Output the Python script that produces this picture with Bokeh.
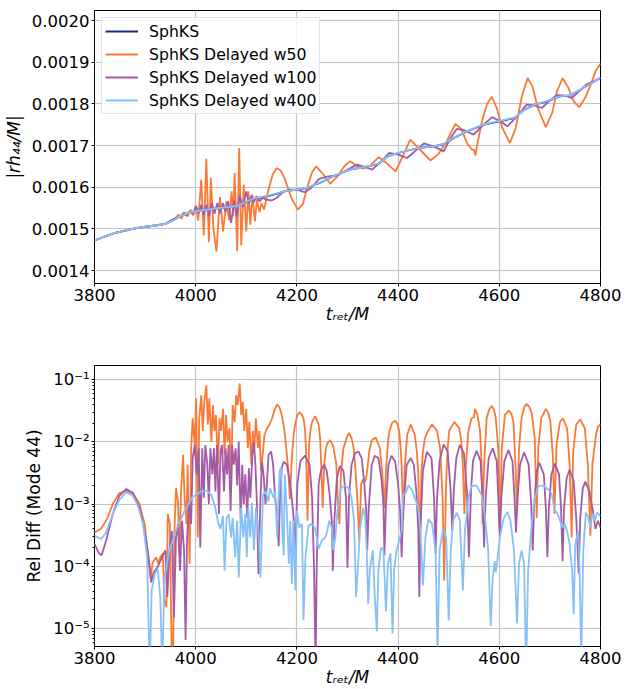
from bokeh.plotting import figure
from bokeh.layouts import column
from bokeh.models import FixedTicker, PrintfTickFormatter, CustomJSTickFormatter
from bokeh.embed import file_html
from bokeh.resources import INLINE

# ---------------- data ----------------
series_names = ["SphKS", "SphKS Delayed w50", "SphKS Delayed w100", "SphKS Delayed w400"]
x_ticks = [3800, 4000, 4200, 4400, 4600, 4800]
amp_ticks = [0.0014, 0.0015, 0.0016, 0.0017, 0.0018, 0.0019, 0.0020]
diff_ticks = [1e-5, 1e-4, 1e-3, 1e-2, 1e-1]

sphks_amp = [(3800,0.001472),(3820,0.001482),(3840,0.001490),(3860,0.001496),(3880,0.001501),(3900,0.001505),
    (3920,0.001508),(3940,0.001512),(3955,0.001520),(3970,0.001531),(3990,0.001540),(4010,0.001544),(4040,0.001549),
    (4070,0.001553),(4085,0.001556),(4100,0.001564),(4115,0.001572),(4140,0.001578),(4160,0.001584),(4175,0.001590),
    (4200,0.001594),(4220,0.001598),(4245,0.001610),(4275,0.001628),(4305,0.001642),(4340,0.001650),(4360,0.001655),
    (4380,0.001674),(4400,0.001682),(4440,0.001694),(4470,0.001698),(4490,0.001703),(4510,0.001718),(4540,0.001736),
    (4570,0.001750),(4600,0.001758),(4630,0.001766),(4650,0.001786),(4670,0.001798),(4695,0.001806),(4720,0.001818),
    (4740,0.001820),(4760,0.001834),(4780,0.001848),(4800,0.001862)]

w50_amp = [(3800,0.001472),(3840,0.001490),(3880,0.001501),(3920,0.001508),(3940,0.001512),(3960,0.001526),
    (3966,0.001534),(3972,0.001524),(3978,0.001540),(3984,0.001530),(3990,0.001546),(3995,0.001532),(4000,0.001556),
    (4005,0.001520),(4011,0.001618),(4016,0.001484),(4021,0.001668),(4026,0.001468),(4030,0.001622),(4035,0.001500),
    (4041,0.001446),(4048,0.001576),(4054,0.001494),(4061,0.001566),(4066,0.001520),(4071,0.001590),(4074,0.001530),
    (4077,0.001634),(4082,0.001446),(4086,0.001694),(4090,0.001460),(4095,0.001606),(4100,0.001494),(4104,0.001590),
    (4108,0.001510),(4112,0.001582),(4117,0.001518),(4121,0.001570),(4126,0.001540),(4130,0.001562),(4135,0.001546),
    (4143,0.001590),(4152,0.001630),(4160,0.001646),(4168,0.001640),(4176,0.001620),(4189,0.001574),(4202,0.001546),
    (4212,0.001560),(4221,0.001602),(4230,0.001636),(4238,0.001650),(4247,0.001638),(4254,0.001628),(4266,0.001608),
    (4280,0.001626),(4295,0.001652),(4305,0.001662),(4315,0.001654),(4330,0.001644),(4345,0.001652),(4362,0.001672),
    (4375,0.001660),(4395,0.001638),(4410,0.001676),(4424,0.001714),(4440,0.001694),(4464,0.001664),(4480,0.001680),
    (4497,0.001712),(4513,0.001752),(4525,0.001740),(4536,0.001706),(4546,0.001690),(4550,0.001690),(4553,0.001676),
    (4556,0.001700),(4566,0.001760),(4576,0.001800),(4585,0.001817),(4595,0.001790),(4605,0.001745),(4621,0.001706),
    (4632,0.001740),(4645,0.001820),(4656,0.001862),(4666,0.001840),(4676,0.001790),(4692,0.001744),(4705,0.001780),
    (4714,0.001830),(4725,0.001862),(4736,0.001840),(4747,0.001806),(4758,0.001792),(4770,0.001815),(4782,0.001850),
    (4790,0.001878),(4800,0.001896)]

w100_amp = [(3800,0.001472),(3840,0.001490),(3880,0.001501),(3920,0.001508),(3940,0.001512),(3960,0.001526),
    (3970,0.001530),(3976,0.001538),(3982,0.001532),(3988,0.001542),(3994,0.001536),(4001,0.001554),(4006,0.001538),
    (4011,0.001558),(4016,0.001534),(4021,0.001558),(4026,0.001530),(4032,0.001562),(4037,0.001536),(4043,0.001562),
    (4048,0.001538),(4054,0.001562),(4059,0.001540),(4064,0.001566),(4070,0.001514),(4076,0.001568),(4081,0.001530),
    (4087,0.001580),(4093,0.001552),(4100,0.001590),(4105,0.001560),(4110,0.001580),(4115,0.001564),(4120,0.001578),
    (4126,0.001566),(4132,0.001574),(4140,0.001570),(4150,0.001568),(4160,0.001574),(4172,0.001588),(4185,0.001594),
    (4200,0.001594),(4215,0.001588),(4228,0.001598),(4244,0.001620),(4262,0.001626),(4280,0.001628),(4300,0.001642),
    (4319,0.001654),(4335,0.001648),(4349,0.001642),(4365,0.001660),(4382,0.001682),(4400,0.001678),(4418,0.001670),
    (4435,0.001688),(4451,0.001705),(4470,0.001698),(4490,0.001686),(4503,0.001716),(4516,0.001740),(4532,0.001736),
    (4549,0.001726),(4567,0.001748),(4586,0.001768),(4602,0.001758),(4616,0.001746),(4635,0.001770),(4654,0.001798),
    (4670,0.001796),(4684,0.001790),(4698,0.001806),(4713,0.001821),(4728,0.001820),(4743,0.001814),(4758,0.001830),
    (4772,0.001846),(4786,0.001854),(4800,0.001862)]

# w400 is practically indistinguishable from SphKS at this scale
w400_amp = [(3800,0.001472),(3820,0.001482),(3840,0.001490),(3860,0.001496),(3880,0.001501),(3900,0.001505),
    (3920,0.001508),(3940,0.001512),(3955,0.001520),(3970,0.001531),(3990,0.001540),(4010,0.001544),(4040,0.001549),
    (4070,0.001553),(4085,0.001556),(4100,0.001565),(4115,0.001573),(4140,0.001579),(4160,0.001585),(4175,0.001590),
    (4200,0.001594),(4220,0.001599),(4245,0.001611),(4275,0.001628),(4305,0.001642),(4340,0.001650),(4360,0.001656),
    (4380,0.001674),(4400,0.001682),(4440,0.001694),(4470,0.001698),(4490,0.001704),(4510,0.001719),(4540,0.001737),
    (4570,0.001751),(4600,0.001759),(4630,0.001767),(4650,0.001786),(4670,0.001798),(4695,0.001807),(4720,0.001818),
    (4740,0.001821),(4760,0.001834),(4780,0.001848),(4800,0.001862)]

diff_w50 = [(3800,3.5e-4),(3813,4.0e-4),(3826,6.0e-4),(3836,1.0e-3),(3849,1.5e-3),(3863,1.65e-3),(3876,1.5e-3),
    (3889,1.0e-3),(3899,4.8e-4),(3907,1.2e-4),(3911,6.6e-5),(3915,1.15e-4),(3922,1.4e-4),(3926,1.1e-4),(3930,1.4e-4),
    (3935,1.6e-4),(3938,2.8e-5),(3942,2.2e-5),(3945,6.9e-4),(3949,4.8e-4),(3953,2e-6),(3955,2e-6),(3958,3.7e-4),
    (3961,1.8e-3),(3965,1.1e-3),(3968,1.8e-4),(3971,1.6e-3),(3975,6.2e-3),(3978,1.26e-3),(3982,4.8e-4),(3984,4.3e-3),
    (3988,1.1e-4),(3991,7.9e-3),(3994,2.4e-2),(3998,8.9e-3),(4001,5.0e-2),(4004,2.9e-4),(4007,2.4e-2),(4011,5.6e-2),
    (4014,1.5e-2),(4017,4.4e-2),(4021,8.1e-2),(4024,1.9e-2),(4027,5.0e-2),(4031,1.0e-2),(4034,3.9e-2),(4037,1.5e-2),
    (4040,2.7e-2),(4044,4.3e-3),(4047,2.4e-2),(4050,1.5e-2),(4054,3.4e-2),(4057,6.2e-3),(4060,2.7e-2),(4063,1.0e-2),
    (4067,1.65e-2),(4070,1.6e-3),(4073,3.9e-2),(4077,2.1e-2),(4080,5.6e-2),(4083,3.9e-2),(4087,8.7e-2),(4090,2.7e-2),
    (4093,4.4e-2),(4096,1.5e-2),(4100,3.4e-2),(4103,7.9e-3),(4106,2.1e-2),(4110,4.3e-3),(4113,1.5e-2),(4116,7.9e-3),
    (4119,2.4e-2),(4123,7.9e-3),(4126,1.5e-2),(4129,3.4e-3),(4133,7.0e-3),(4136,1.3e-2),(4141,1.65e-2),(4146,1.9e-2),
    (4151,2.4e-2),(4156,3.3e-2),(4161,4.0e-2),(4166,3.5e-2),(4170,2.7e-2),(4175,1.6e-2),(4179,7.9e-3),(4183,3.5e-3),
    (4186,1.2e-3),(4190,5.5e-3),(4194,1.4e-2),(4197,2.0e-2),(4201,2.7e-2),(4205,3.0e-2),(4209,2.8e-2),(4213,2.4e-2),
    (4216,1.6e-2),(4218,7.9e-3),(4221,5.4e-4),(4224,8.9e-3),(4227,1.6e-2),(4230,2.1e-2),(4236,2.6e-2),(4243,1.9e-2),
    (4246,1.1e-2),(4248,4.3e-3),(4251,8.7e-4),(4254,4.3e-3),(4257,7.5e-3),(4260,9.5e-3),(4266,1.07e-2),(4272,8.4e-3),
    (4278,4.3e-3),(4281,1.0e-3),(4284,4.8e-4),(4287,3.0e-3),(4292,7.9e-3),(4299,1.2e-2),(4303,1.4e-2),(4308,1.15e-2),
    (4312,8e-3),(4315,4.3e-3),(4320,1.0e-3),(4323,2.6e-4),(4327,2.1e-3),(4331,2.5e-3),(4335,2.3e-3),(4338,3.0e-3),
    (4343,7.0e-3),(4348,1.07e-2),(4356,1.17e-2),(4364,7.9e-3),(4369,3.0e-3),(4373,8.7e-4),(4376,3.4e-3),(4380,1.0e-2),
    (4383,1.5e-2),(4388,2.0e-2),(4394,2.2e-2),(4399,1.9e-2),(4402,1.5e-2),(4405,8e-3),(4407,4.3e-3),(4410,5.4e-4),
    (4413,3.8e-3),(4418,1.3e-2),(4425,1.9e-2),(4433,1.3e-2),(4437,7e-3),(4440,3.0e-3),(4443,1.6e-4),(4446,3.0e-3),
    (4449,7e-3),(4453,1.15e-2),(4459,1.5e-2),(4467,1.9e-2),(4477,1.5e-2),(4483,7.9e-3),(4488,1.26e-3),(4491,5.9e-5),
    (4495,2.3e-3),(4498,8e-3),(4501,1.5e-2),(4511,2.1e-2),(4521,1.65e-2),(4525,1.0e-2),(4528,4.3e-3),(4531,6.9e-4),
    (4534,4.3e-3),(4539,1.5e-2),(4545,2.4e-2),(4550,2.5e-2),(4552,3.4e-2),(4557,2.7e-2),(4562,1.5e-2),(4565,4.3e-3),
    (4567,4.8e-4),(4570,4.3e-3),(4575,2.4e-2),(4580,3.3e-2),(4585,3.8e-2),(4590,3.2e-2),(4593,2.4e-2),(4598,7.9e-3),
    (4601,3.7e-4),(4605,7.9e-3),(4611,2.7e-2),(4619,3.2e-2),(4624,2.8e-2),(4628,2.1e-2),(4632,4.3e-3),(4635,6.9e-4),
    (4639,7.9e-3),(4644,2.4e-2),(4649,3.6e-2),(4654,4.1e-2),(4659,3.7e-2),(4664,2.9e-2),(4670,1.15e-2),(4674,6.0e-4),
    (4677,7.9e-3),(4683,2.4e-2),(4692,3.4e-2),(4697,2.9e-2),(4701,2.1e-2),(4706,5.5e-3),(4709,6.9e-4),(4713,8.9e-3),
    (4720,2.1e-2),(4726,2.4e-2),(4734,1.65e-2),(4739,4.3e-3),(4743,2.9e-4),(4746,7.0e-3),(4752,1.9e-2),(4760,2.3e-2),
    (4769,1.65e-2),(4775,4.3e-3),(4780,3.1e-4),(4784,4.3e-3),(4791,1.3e-2),(4795,1.75e-2),(4800,1.9e-2)]

diff_w100 = [(3800,2.3e-4),(3808,1.65e-4),(3814,1.5e-4),(3823,2.6e-4),(3836,6.9e-4),(3849,1.35e-3),(3863,1.75e-3),
    (3876,1.5e-3),(3889,8.7e-4),(3899,3.7e-4),(3907,1.4e-4),(3912,5.5e-5),(3917,8e-5),(3924,9.5e-5),(3930,1.2e-4),
    (3935,1.5e-4),(3940,1.8e-4),(3944,3.2e-5),(3948,1.8e-4),(3953,3.7e-4),(3957,1.5e-5),(3961,2.9e-4),(3965,4.8e-4),
    (3969,8.5e-5),(3973,5.4e-4),(3977,1.8e-4),(3980,6.5e-6),(3983,2.9e-4),(3987,1.0e-3),(3991,4.8e-4),(3994,5.5e-3),
    (3998,8.9e-3),(4002,3.0e-3),(4006,7.9e-3),(4009,2.0e-4),(4013,7.9e-3),(4016,1.26e-3),(4019,8.9e-3),(4023,4.3e-3),
    (4026,1.0e-3),(4029,7.9e-3),(4033,3.0e-3),(4036,7.9e-3),(4039,1.6e-3),(4042,8.9e-3),(4046,6.9e-4),(4049,7.0e-3),
    (4052,8.9e-3),(4056,1.6e-3),(4059,7.9e-3),(4062,3.0e-3),(4065,8.9e-3),(4069,7.8e-4),(4072,8.9e-3),(4075,4.3e-3),
    (4079,7.9e-3),(4082,2.0e-3),(4085,1.0e-2),(4089,4.8e-4),(4092,4.3e-3),(4095,1.0e-3),(4098,3.0e-3),(4102,6.0e-4),
    (4105,3.8e-3),(4108,1.26e-3),(4112,6.2e-3),(4115,1.0e-2),(4118,4.3e-3),(4121,1.0e-3),(4124,7.5e-5),(4128,1.26e-3),
    (4131,4.8e-3),(4134,3.0e-3),(4138,1.0e-3),(4141,2.3e-3),(4144,6.2e-3),(4149,7.0e-3),(4153,4.3e-3),(4157,1.26e-3),
    (4161,6.8e-4),(4164,2.1e-4),(4167,1.6e-3),(4170,3.8e-3),(4174,4.8e-3),(4180,4.3e-3),(4187,2.1e-3),(4193,6.8e-4),
    (4197,1.8e-4),(4201,2.1e-3),(4207,4.9e-3),(4216,6.0e-3),(4225,4.3e-3),(4230,1.26e-3),(4234,8.5e-5),(4237,2e-6),
    (4239,8.5e-5),(4243,2.1e-3),(4246,3.0e-3),(4249,3.7e-3),(4254,4.3e-3),(4259,3.4e-3),(4264,1.6e-3),(4269,5.4e-4),
    (4271,8.5e-5),(4274,5.4e-4),(4279,2.6e-3),(4285,4.1e-3),(4292,3.4e-3),(4297,1.26e-3),(4300,9.5e-5),(4303,1.26e-3),
    (4308,4.3e-3),(4315,6.6e-3),(4322,7.0e-3),(4328,5.5e-3),(4333,2.3e-3),(4337,7.8e-4),(4339,1.8e-4),(4342,8.7e-4),
    (4348,4.3e-3),(4354,6.0e-3),(4361,5.5e-3),(4367,2.6e-3),(4371,1.0e-3),(4373,1.5e-4),(4376,1.0e-3),(4381,4.3e-3),
    (4387,6.0e-3),(4394,4.9e-3),(4400,2.1e-3),(4404,7.8e-4),(4407,1.4e-4),(4410,7.8e-4),(4417,4.3e-3),(4425,5.5e-3),
    (4431,4.3e-3),(4436,1.6e-3),(4440,3.7e-4),(4442,3.2e-5),(4444,3.7e-4),(4449,3.4e-3),(4457,6.9e-3),(4466,5.5e-3),
    (4471,1.26e-3),(4474,1.6e-4),(4477,1.26e-3),(4482,4.9e-3),(4490,9.1e-3),(4498,7.0e-3),(4504,1.6e-3),(4507,3.7e-4),
    (4510,1.6e-3),(4515,5.5e-3),(4522,8.9e-3),(4530,6.6e-3),(4536,1.6e-3),(4540,1.4e-4),(4544,1.6e-3),(4548,4.9e-3),
    (4555,7.2e-3),(4563,4.9e-3),(4567,1.26e-3),(4570,2.0e-4),(4573,1.26e-3),(4579,5.5e-3),(4587,7.9e-3),(4595,4.9e-3),
    (4598,1.26e-3),(4601,2.9e-4),(4604,1.26e-3),(4610,4.9e-3),(4618,7.4e-3),(4626,4.9e-3),(4630,1.26e-3),(4633,3.5e-4),
    (4636,1.26e-3),(4641,4.3e-3),(4649,6.8e-3),(4658,4.3e-3),(4663,1.0e-3),(4666,1.8e-4),(4669,1.0e-3),(4674,3.4e-3),
    (4679,4.6e-3),(4688,3.0e-3),(4692,8.7e-4),(4695,1.4e-4),(4698,8.7e-4),(4703,3.0e-3),(4710,4.5e-3),(4718,3.0e-3),
    (4722,8.7e-4),(4725,1.2e-4),(4728,8.7e-4),(4733,2.6e-3),(4739,3.6e-3),(4747,2.3e-3),(4752,6.0e-4),(4757,7.6e-5),
    (4760,6.0e-4),(4765,1.8e-3),(4770,2.3e-3),(4778,1.6e-3),(4785,7.8e-4),(4790,4.0e-4),(4795,5.4e-4),(4800,4.2e-4)]

diff_w400 = [(3800,3.1e-4),(3813,2.75e-4),(3823,3.5e-4),(3836,6.9e-4),(3849,1.17e-3),(3863,1.55e-3),(3876,1.35e-3),
    (3886,9.3e-4),(3896,4.8e-4),(3904,1.4e-4),(3909,2e-6),(3913,4.1e-5),(3919,7.6e-5),(3925,9.1e-5),(3930,3.2e-5),
    (3934,2e-6),(3938,6.6e-5),(3948,1.8e-4),(3961,3.7e-4),(3978,7.8e-4),(3994,1.3e-3),(4011,1.6e-3),(4021,1.65e-3),
    (4031,1.4e-3),(4038,9.3e-4),(4045,4.8e-4),(4049,4.0e-4),(4054,6.5e-4),(4057,8.5e-5),(4061,6.0e-4),(4065,6.9e-4),
    (4070,2.9e-4),(4073,6.0e-4),(4078,1.4e-4),(4082,5.4e-4),(4085,6.6e-5),(4090,8.7e-4),(4094,2.9e-4),(4098,6.9e-4),
    (4101,1.4e-4),(4104,8.7e-4),(4108,2.9e-4),(4111,1.05e-3),(4115,1.8e-4),(4119,8.7e-4),(4124,3.7e-4),(4128,6.6e-5),
    (4133,1.4e-3),(4138,1.6e-3),(4144,1.1e-3),(4147,1.8e-3),(4154,1.26e-3),(4157,1.6e-3),(4161,2.9e-4),(4166,3.5e-3),
    (4169,3.8e-3),(4171,3.7e-4),(4174,1.5e-4),(4176,3.0e-3),(4180,7.8e-4),(4184,1.1e-4),(4187,5.4e-4),(4190,5.2e-5),
    (4193,5.4e-4),(4197,4.1e-5),(4200,7.8e-4),(4205,4.2e-4),(4210,4.8e-4),(4213,1.35e-5),(4217,1.4e-4),(4223,4.5e-4),
    (4230,4.8e-4),(4236,4.0e-4),(4243,1.9e-4),(4249,2.6e-4),(4256,2.9e-4),(4260,3.7e-4),(4264,5.4e-4),(4269,4.2e-4),
    (4272,1.8e-4),(4276,2.9e-4),(4280,7.8e-4),(4287,1.8e-3),(4295,2.0e-3),(4302,1.8e-3),(4308,1.26e-3),(4313,5.4e-4),
    (4317,3.2e-5),(4321,1.1e-4),(4325,4.2e-4),(4331,8.7e-4),(4335,6.0e-4),(4338,1.8e-4),(4341,2.5e-5),(4344,8.5e-5),
    (4350,1.8e-4),(4354,3.2e-5),(4358,9e-6),(4361,8.5e-5),(4366,2.0e-4),(4371,1.8e-4),(4376,1.9e-5),(4380,1.1e-4),
    (4385,1.6e-4),(4389,8.3e-6),(4392,8.5e-5),(4397,1.8e-4),(4402,2.6e-4),(4407,3.7e-4),(4410,1.4e-3),(4415,1.5e-3),
    (4420,2.0e-3),(4427,1.7e-3),(4433,1.26e-3),(4440,8.7e-4),(4444,3.7e-4),(4449,4.9e-5),(4454,2.9e-4),(4460,5.7e-4),
    (4467,4.8e-4),(4474,1.8e-4),(4478,4e-6),(4482,1.8e-4),(4489,4.0e-4),(4495,2.9e-4),(4500,1.35e-5),(4504,1.8e-4),
    (4509,5.4e-4),(4516,7.3e-4),(4522,5.4e-4),(4528,4.1e-5),(4532,3.7e-4),(4539,1.26e-3),(4545,1.95e-3),(4555,2.0e-3),
    (4565,1.4e-3),(4572,6.0e-4),(4578,1.8e-4),(4583,1.1e-5),(4587,6.6e-5),(4591,1.2e-4),(4593,8e-5),(4596,1.2e-4),
    (4601,2.9e-4),(4609,6.0e-4),(4616,7.5e-4),(4622,5.4e-4),(4629,1.8e-4),(4635,1.2e-5),(4639,1.1e-4),(4644,1.8e-4),
    (4649,1.1e-4),(4653,2e-6),(4657,8.5e-5),(4664,4.8e-4),(4670,1.26e-3),(4677,1.95e-3),(4687,2.0e-3),(4697,1.7e-3),
    (4703,1.5e-3),(4710,7.8e-4),(4714,7.3e-4),(4720,5.4e-4),(4725,4.2e-4),(4729,4.8e-4),(4734,3.7e-4),(4739,2.3e-4),
    (4744,8.5e-5),(4747,1.7e-5),(4750,2.3e-4),(4756,3.7e-4),(4759,6.6e-5),(4762,3e-6),(4766,1.8e-4),(4771,7.3e-4),
    (4775,6.4e-4),(4780,4.2e-4),(4784,6.9e-4),(4789,5.4e-4),(4793,7.3e-4),(4800,6.4e-4)]

# ---------------- styling ----------------
FONT = "DejaVu Sans"
colors = ["#1b2a80", "#fa7a35", "#a45ba6", "#85c0f9"]
LW = 1.8
X0, X1 = 3800, 4800
AMP_LO, AMP_HI = 0.0013688, 0.002024
LOG_LO, LOG_HI = -5.29, -0.772
X_TITLE = "t\u1d63\u2091\u209c/M"
AMP_TITLE = "|rh\u2084\u2084/M|"


def unzip(pts):
    return [a for a, _ in pts], [b for _, b in pts]


def style(p):
    p.outline_line_color = "black"
    p.outline_line_width = 1
    p.background_fill_color = "white"
    p.border_fill_color = "white"
    for ax in p.axis:
        ax.axis_line_color = None
        ax.major_tick_line_color = "black"
        ax.major_tick_out = 3
        ax.major_tick_in = 0
        ax.minor_tick_line_color = None
        ax.major_label_text_font = FONT
        ax.major_label_text_font_size = "16.5px"
        ax.major_label_text_color = "black"
        ax.major_label_standoff = 2
        ax.axis_label_text_font = FONT
        ax.axis_label_text_font_size = "17px"
        ax.axis_label_text_color = "black"
    p.grid.grid_line_color = "#c4c4c4"
    p.grid.grid_line_width = 1.2


# top plot
p1 = figure(x_range=(X0, X1), y_range=(AMP_LO, AMP_HI), frame_width=506, frame_height=273,
            min_border_left=94, min_border_right=30, min_border_top=10, min_border_bottom=47,
            output_backend="svg", toolbar_location=None, title=None)
style(p1)
p1.xaxis.ticker = FixedTicker(ticks=x_ticks)
p1.yaxis.ticker = FixedTicker(ticks=amp_ticks)
p1.yaxis.formatter = PrintfTickFormatter(format="%.4f")
p1.xaxis.axis_label = X_TITLE
p1.xaxis.axis_label_text_font_style = "italic"
p1.xaxis.axis_label_standoff = 0
p1.yaxis.axis_label = AMP_TITLE
p1.yaxis.axis_label_text_font_style = "italic"
p1.yaxis.axis_label_standoff = 5

for name, pts, c in zip(series_names, [sphks_amp, w50_amp, w100_amp, w400_amp], colors):
    t, v = unzip(pts)
    p1.line(t, v, line_color=c, line_width=LW, legend_label=name)

lg = p1.legend[0]
lg.location = "top_left"
lg.margin = 7
lg.padding = 3
lg.spacing = 3
lg.label_height = 20
lg.glyph_height = 20
lg.glyph_width = 33
lg.label_standoff = 11
lg.label_text_font = FONT
lg.label_text_font_size = "15.7px"
lg.label_text_color = "black"
lg.border_line_color = "#cccccc"
lg.border_line_width = 1
lg.background_fill_alpha = 0.85

# bottom plot
p2 = figure(x_range=(X0, X1), y_range=(10 ** LOG_LO, 10 ** LOG_HI), y_axis_type="log",
            frame_width=506, frame_height=281,
            min_border_left=94, min_border_right=30, min_border_top=35, min_border_bottom=43,
            output_backend="svg", toolbar_location=None, title=None)
style(p2)
p2.xaxis.ticker = FixedTicker(ticks=x_ticks)
minor = [k * 10.0 ** e for e in range(-6, 0) for k in range(2, 10)]
p2.yaxis.ticker = FixedTicker(ticks=diff_ticks, minor_ticks=minor)
p2.yaxis.minor_tick_line_color = "black"
p2.yaxis.minor_tick_out = 2
p2.yaxis.minor_tick_in = 0
p2.yaxis.formatter = CustomJSTickFormatter(code="""
const sup = {"-": "\\u207b", "0": "\\u2070", "1": "\\u00b9", "2": "\\u00b2", "3": "\\u00b3",
             "4": "\\u2074", "5": "\\u2075", "6": "\\u2076", "7": "\\u2077", "8": "\\u2078", "9": "\\u2079"};
const e = Math.round(Math.log10(tick));
return "10" + String(e).split("").map(c => sup[c]).join("");
""")
p2.yaxis.axis_label = "Rel Diff (Mode 44)"
p2.yaxis.axis_label_text_font_style = "normal"
p2.yaxis.axis_label_standoff = 6
p2.xaxis.axis_label = X_TITLE
p2.xaxis.axis_label_text_font_style = "italic"
p2.xaxis.axis_label_standoff = 0

for pts, c in zip([diff_w50, diff_w100, diff_w400], colors[1:]):
    t, v = unzip(pts)
    p2.line(t, v, line_color=c, line_width=LW)

layout = column(p1, p2, spacing=0)
open("out.html", "w").write(file_html(layout, INLINE))
